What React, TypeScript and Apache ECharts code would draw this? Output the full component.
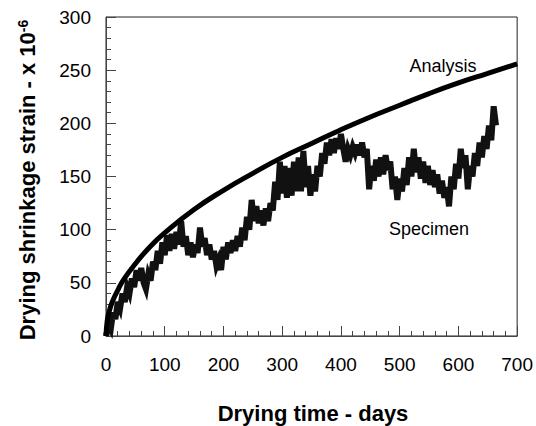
import React, { useEffect, useRef } from "react";
import * as echarts from "echarts";

const xTicks = [0, 100, 200, 300, 400, 500, 600, 700];
const yTicks = [0, 50, 100, 150, 200, 250, 300];

const analysisDays = [0, 2, 5, 10, 20, 30, 50, 75, 100, 150, 200, 250, 300, 350, 400, 450, 500, 550, 600, 650, 700];
const analysisValues = [0, 14, 22, 31, 43, 53, 68, 84, 97, 119, 137, 153, 168, 181, 194, 206, 217, 228, 238, 247, 256];

const specimenStep = 4;
const specimenValues = [
  0, 10, 6, 22, 16, 32, 26, 40, 32, 46, 40, 54, 46, 62, 52, 64, 50, 44, 58, 52,
  70, 62, 80, 68, 88, 76, 95, 80, 96, 82, 98, 86, 108, 84, 94, 76, 88, 74, 86, 78,
  102, 84, 92, 76, 86, 72, 80, 66, 72, 62, 84, 72, 88, 78, 90, 80, 94, 84, 102, 90,
  112, 100, 128, 108, 122, 106, 118, 104, 120, 108, 125, 118, 145, 128, 164, 134, 160, 130, 158, 132,
  164, 136, 168, 136, 174, 140, 160, 132, 152, 136, 160, 150, 172, 162, 182, 170, 185, 172, 186, 176,
  190, 176, 164, 176, 170, 178, 172, 180, 170, 182, 168, 176, 138, 160, 146, 166, 150, 168, 152, 170,
  156, 164, 138, 150, 128, 148, 136, 158, 142, 168, 150, 176, 154, 168, 148, 164, 144, 160, 142, 156,
  140, 152, 134, 146, 130, 140, 122, 150, 138, 162, 148, 176, 158, 170, 138, 160, 150, 172, 160, 182,
  168, 188, 176, 198, 184, 216, 198,
];

const FONT = "'Liberation Sans', Arial, sans-serif";

export default function App() {
  const ref = useRef<HTMLDivElement>(null);
  useEffect(() => {
    if (!ref.current) return;
    const chart = echarts.init(ref.current, null, { renderer: "svg" });
    const analysis = analysisDays.map((d, i) => [d, analysisValues[i]]);
    const specimen = specimenValues.map((v, i) => [i * specimenStep, v]);
    chart.setOption({
      animation: false,
      backgroundColor: "#fff",
      grid: {
        left: 106,
        right: 18,
        top: 17,
        bottom: 90,
        show: true,
        borderColor: "#222",
        borderWidth: 1,
      },
      xAxis: {
        type: "value",
        min: 0,
        max: 700,
        interval: 100,
        axisLine: { show: true, lineStyle: { color: "#444", width: 1 } },
        axisTick: { show: true, inside: true, length: 10, lineStyle: { color: "#444" } },
        minorTick: { show: true, splitNumber: 5, length: 5, lineStyle: { color: "#444" } },
        splitLine: { show: false },
        axisLabel: { fontSize: 19, color: "#000", fontFamily: FONT, margin: 19, formatter: (v: number) => (xTicks.includes(v) ? String(v) : "") },
      },
      yAxis: {
        type: "value",
        min: 0,
        max: 300,
        interval: 50,
        axisLine: { show: true, lineStyle: { color: "#444", width: 1 } },
        axisTick: { show: true, inside: true, length: 10, lineStyle: { color: "#444" } },
        minorTick: { show: true, splitNumber: 5, length: 5, lineStyle: { color: "#444" } },
        splitLine: { show: false },
        axisLabel: { fontSize: 19, color: "#000", fontFamily: FONT, margin: 15, formatter: (v: number) => (yTicks.includes(v) ? String(v) : "") },
      },
      series: [
        {
          type: "line",
          data: specimen,
          showSymbol: false,
          symbol: "none",
          lineStyle: { color: "#111", width: 6, join: "miter" },
          z: 2,
        },
        {
          type: "line",
          data: analysis,
          showSymbol: false,
          symbol: "none",
          smooth: true,
          lineStyle: { color: "#000", width: 5 },
          z: 3,
        },
      ],
      graphic: [
        {
          type: "text",
          x: 27,
          y: 180,
          rotation: Math.PI / 2,
          style: {
            text: "{a|Drying shrinkage strain - x 10}{b|-6}",
            align: "center",
            verticalAlign: "middle",
            rich: {
              a: { fontSize: 22, fontWeight: "bold", fontFamily: FONT, fill: "#000", verticalAlign: "bottom" },
              b: { fontSize: 14, fontWeight: "bold", fontFamily: FONT, fill: "#000", verticalAlign: "top" },
            },
          },
        },
        {
          type: "text",
          x: 313,
          y: 413,
          style: {
            text: "Drying time - days",
            align: "center",
            verticalAlign: "middle",
            fontSize: 22,
            fontWeight: "bold",
            fontFamily: FONT,
            fill: "#000",
          },
        },
        {
          type: "text",
          x: 443,
          y: 66,
          style: { text: "Analysis", align: "center", verticalAlign: "middle", fontSize: 18, fontFamily: FONT, fill: "#000" },
        },
        {
          type: "text",
          x: 429,
          y: 229,
          style: { text: "Specimen", align: "center", verticalAlign: "middle", fontSize: 18, fontFamily: FONT, fill: "#000" },
        },
      ],
    });
    return () => chart.dispose();
  }, []);
  return <div ref={ref} style={{ position: "fixed", left: 0, top: 0, width: 536, height: 426 }} />;
}
